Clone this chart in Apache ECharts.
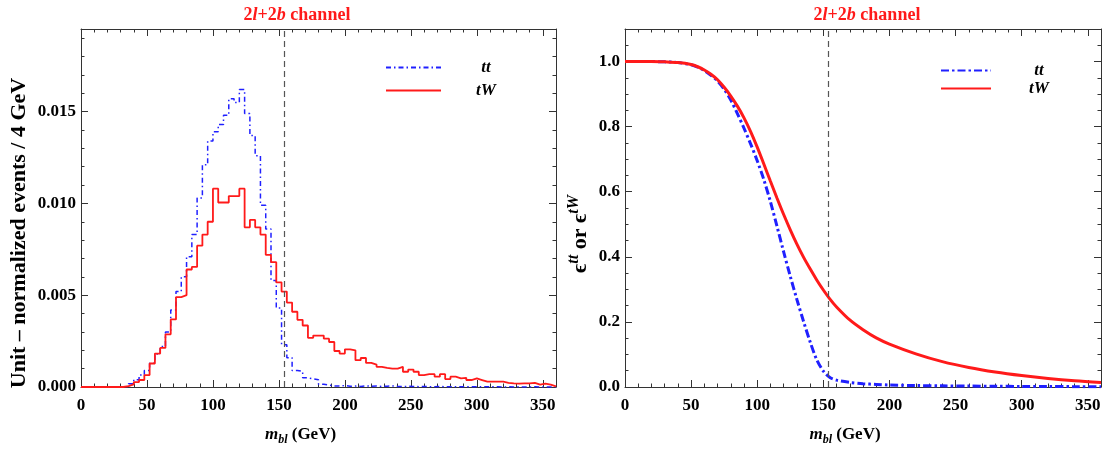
<!DOCTYPE html>
<html><head><meta charset="utf-8">
<script src="https://cdn.jsdelivr.net/npm/echarts@6/dist/echarts.min.js"></script>
<style>html,body{margin:0;padding:0;background:#fff}#c{width:1107px;height:449px}</style>
</head><body><div id="c"></div>
<script>
// ---------------- data ----------------
const BIN_WIDTH = 4; // GeV per histogram bin, bins start at 0
const tWHist = [
  0,0,0,0,0,0,0,0,
  0.00005,0.00014,0.00027,0.00038,0.00065,0.00128,0.00182,0.00213,
  0.00287,0.00368,0.0049,0.0050,0.0064,0.00654,0.0077,0.0083,
  0.0090,0.0108,0.01005,0.01005,0.0104,0.0104,0.0108,0.0087,
  0.0091,0.0087,0.0083,0.0072,0.0068,0.0057,0.0052,0.0046,
  0.0041,0.00366,0.00335,0.00268,0.0028,0.0028,0.00263,0.00245,
  0.00196,0.00182,0.00205,0.0020,0.00146,0.00158,0.00131,0.00122,
  0.0011,0.00104,0.0010,0.0010,0.0011,0.00083,0.00095,0.00083,
  0.00065,0.0007,0.0007,0.00056,0.0007,0.00043,0.00056,0.00047,
  0.0005,0.00038,0.00047,0.00038,0.00029,0.00029,0.00029,0.00029,
  0.00023,0.0002,0.00018,0.0002,0.0002,0.00023,0.00013,0.00018,0.00013,0.00003
];
const ttHist = [
  0,0,0,0,0,0,0,0,
  0.00003,0.00018,0.0004,0.00065,0.0009,0.0013,0.0018,0.0022,
  0.0030,0.0042,0.0052,0.0060,0.0071,0.0083,0.0103,0.0121,
  0.0134,0.0139,0.0143,0.0148,0.0157,0.0155,0.0162,0.0149,
  0.0137,0.0126,0.0099,0.0086,0.0058,0.0043,0.0023,0.0016,
  0.0009,0.00085,0.0005,0.00045,0.0004,0.00015,0.0001,0.00006,
  0.00005,0.00008,0.00004,0.00005,0.00003,0.00006,0.00004,0.00005,
  0.00003,0.00004,0.00006,0.00003,0.00002,0.00004,0.00003,0.00002,
  0.00003,0.00002,0.00002,0.00003,0.00001,0.00002,0.00002,0.00001,
  0.00002,0.00001,0.00001,0.00002,0.00001,0.00001,0.00001,0,
  0.00001,0,0.00001,0,0,0.00001,0,0,0,0
];
const effMass = [0,10,20,30,40,50,55,60,65,70,75,80,85,90,95,100,105,110,115,120,125,130,135,140,145,150,155,160,170,180,190,200,220,240,260,280,300,320,340,360];
const effTT = [1.0,1.0,1.0,0.999,0.997,0.99,0.983,0.972,0.958,0.94,0.915,0.882,0.84,0.795,0.747,0.695,0.637,0.569,0.493,0.415,0.34,0.269,0.202,0.139,0.084,0.049,0.029,0.021,0.014,0.01,0.008,0.006,0.0045,0.0035,0.0028,0.0022,0.0018,0.0014,0.0011,0.0009];
const effTW = [1.0,1.0,1.0,0.999,0.997,0.991,0.984,0.974,0.961,0.944,0.921,0.894,0.863,0.827,0.785,0.737,0.685,0.632,0.58,0.53,0.483,0.439,0.399,0.363,0.329,0.298,0.27,0.246,0.206,0.176,0.151,0.132,0.102,0.078,0.06,0.046,0.035,0.026,0.019,0.014];
const cutValue = 154; // GeV, dashed vertical line
const seriesNames = ['tt', 'tW'];
const titleText = '{n|2}{i|l}{n|+2}{i|b}{n| channel}';
const xAxisName = '{i|m}{s|bl}{n| (GeV)}';
const yNameLeft = 'Unit \u2013 normalized events / 4 GeV';
const yNameRight = '{n|\u03f5}{sup|tt}{n| or \u03f5}{sup|tW}';

// ---------------- style ----------------
const SERIF = '"Liberation Serif", "Times New Roman", serif';
const RED = '#ff1a1a';
const BLUE = '#2020ff';
const FRAME = '#333333';

function histData(vals) {
  const d = vals.map((v, i) => [i * BIN_WIDTH, v]);
  d.push([vals.length * BIN_WIDTH, vals[vals.length - 1]]);
  return d;
}
function pairs(xs, ys) { return xs.map((x, i) => [x, ys[i]]); }

const labelStyle = {color: '#000', fontFamily: SERIF, fontWeight: 'bold', fontSize: 17};
const richBase = {
  n: {fontFamily: SERIF, fontWeight: 'bold', fontSize: 17, color: '#000', lineHeight: 20},
  i: {fontFamily: SERIF, fontWeight: 'bold', fontStyle: 'italic', fontSize: 17, color: '#000', lineHeight: 20},
  s: {fontFamily: SERIF, fontWeight: 'bold', fontStyle: 'italic', fontSize: 12, color: '#000', lineHeight: 12, padding: [10, 0, 0, 0]}
};
const richRightY = {
  n: {fontFamily: SERIF, fontWeight: 'bold', fontSize: 22, color: '#000', lineHeight: 24},
  sup: {fontFamily: SERIF, fontWeight: 'bold', fontStyle: 'italic', fontSize: 16, color: '#000', lineHeight: 16, padding: [0, 0, 13, 0]}
};

function axisSet(kind, grid, pos, min, max, major, minor, showLabels, fmt, extra) {
  const base = {gridIndex: grid, type: 'value', position: pos, min: min, max: max,
    splitLine: {show: false}, axisPointer: {show: false}};
  const maj = Object.assign({}, base, {
    interval: major,
    axisLine: {show: true, onZero: false, lineStyle: {color: FRAME, width: 1}},
    axisTick: {show: true, inside: true, length: 7, lineStyle: {color: FRAME, width: 1}},
    axisLabel: Object.assign({show: showLabels, margin: kind === 'x' ? 10 : 5, showMaxLabel: false,
      showMinLabel: true, formatter: fmt, hideOverlap: false}, labelStyle)
  }, extra || {});
  const mnr = Object.assign({}, base, {
    interval: minor,
    axisLine: {show: false, onZero: false},
    axisTick: {show: true, inside: true, length: 3.5, lineStyle: {color: FRAME, width: 1}},
    axisLabel: {show: false}
  });
  return [maj, mnr];
}

const xName = {name: xAxisName, nameLocation: 'middle', nameGap: 38,
  nameTextStyle: {rich: richBase, padding: [0, 36, 0, 0]}};
const xFmt = v => String(v);
const grids = [
  {left: 81, top: 29, width: 475, height: 358, outerBoundsMode: 'none'},
  {left: 625, top: 29, width: 476, height: 358, outerBoundsMode: 'none'}
];

const xAxes = [].concat(
  axisSet('x', 0, 'bottom', 0, 360, 50, 10, true, xFmt, xName),
  axisSet('x', 0, 'top', 0, 360, 50, 10, false),
  axisSet('x', 1, 'bottom', 0, 360, 50, 10, true, xFmt, xName),
  axisSet('x', 1, 'top', 0, 360, 50, 10, false)
);
const yAxes = [].concat(
  axisSet('y', 0, 'left', 0, 0.0195, 0.005, 0.001, true, v => v.toFixed(3), {
    name: '{n|' + yNameLeft + '}', nameLocation: 'middle', nameRotate: 90, nameGap: 50,
    nameTextStyle: {rich: {n: Object.assign({}, richBase.n, {fontSize: 22, lineHeight: 24})}, padding: [0, 50, 0, 0]}
  }),
  axisSet('y', 0, 'right', 0, 0.0195, 0.005, 0.001, false),
  axisSet('y', 1, 'left', 0, 1.1, 0.2, 0.05, true, v => v.toFixed(1), {
    name: yNameRight, nameLocation: 'middle', nameRotate: 90, nameGap: 22,
    nameTextStyle: {rich: richRightY, padding: [0, 52, 0, 0]}
  }),
  axisSet('y', 1, 'right', 0, 1.1, 0.2, 0.05, false)
);

const cutLine = {silent: true, symbol: 'none', label: {show: false},
  lineStyle: {color: '#555', type: [6, 4], width: 1.2}, data: [{xAxis: cutValue}]};

const legendRich = {fontFamily: SERIF, fontWeight: 'bold', fontStyle: 'italic', fontSize: 17,
  color: '#000', lineHeight: 18, align: 'center'};
const titleRich = {
  n: {fontFamily: SERIF, fontWeight: 'bold', fontSize: 18, color: RED},
  i: {fontFamily: SERIF, fontWeight: 'bold', fontStyle: 'italic', fontSize: 18, color: RED}
};

const option = {
  backgroundColor: '#fff',
  animation: false,
  title: [
    {text: titleText, left: 292, top: 1, textAlign: 'center', textStyle: {rich: titleRich}},
    {text: titleText, left: 862, top: 1, textAlign: 'center', textStyle: {rich: titleRich}}
  ],
  legend: [
    {data: [seriesNames[0], seriesNames[1]], orient: 'vertical', left: 385, top: 59, padding: 0,
      itemWidth: 55, itemHeight: 14, itemGap: 6, selectedMode: false,
      itemStyle: {opacity: 0, borderWidth: 0},
      formatter: n => '{i|' + n.trim() + '}',
      textStyle: {rich: {i: Object.assign({}, legendRich, {width: 80})}}},
    {data: [seriesNames[0] + ' ', seriesNames[1] + ' '], orient: 'vertical', left: 940, top: 62, padding: 0,
      itemWidth: 50, itemHeight: 14, itemGap: 1, selectedMode: false,
      itemStyle: {opacity: 0, borderWidth: 0},
      formatter: n => '{i|' + n.trim() + '}',
      textStyle: {rich: {i: Object.assign({}, legendRich, {width: 86})}}}
  ],
  grid: grids,
  xAxis: xAxes,
  yAxis: yAxes,
  series: [
    {name: seriesNames[0], type: 'line', xAxisIndex: 0, yAxisIndex: 0, step: 'end', symbol: 'none',
      data: histData(ttHist), lineStyle: {color: BLUE, width: 1.5, type: [5, 3, 1.5, 3]},
      itemStyle: {color: BLUE}, markLine: cutLine, z: 3},
    {name: seriesNames[1], type: 'line', xAxisIndex: 0, yAxisIndex: 0, step: 'end', symbol: 'none',
      data: histData(tWHist), lineStyle: {color: RED, width: 1.8}, itemStyle: {color: RED}, z: 4},
    {name: seriesNames[0] + ' ', type: 'line', xAxisIndex: 4, yAxisIndex: 4, symbol: 'none',
      smooth: 0.3,
      data: pairs(effMass, effTT), lineStyle: {color: BLUE, width: 3, type: [8, 3, 2.5, 3]},
      itemStyle: {color: BLUE}, markLine: cutLine, z: 3},
    {name: seriesNames[1] + ' ', type: 'line', xAxisIndex: 4, yAxisIndex: 4, symbol: 'none',
      smooth: 0.3,
      data: pairs(effMass, effTW), lineStyle: {color: RED, width: 3}, itemStyle: {color: RED}, z: 4}
  ]
};
const chart = echarts.init(document.getElementById('c'), null, {renderer: 'canvas'});
chart.setOption(option);
</script></body></html>
